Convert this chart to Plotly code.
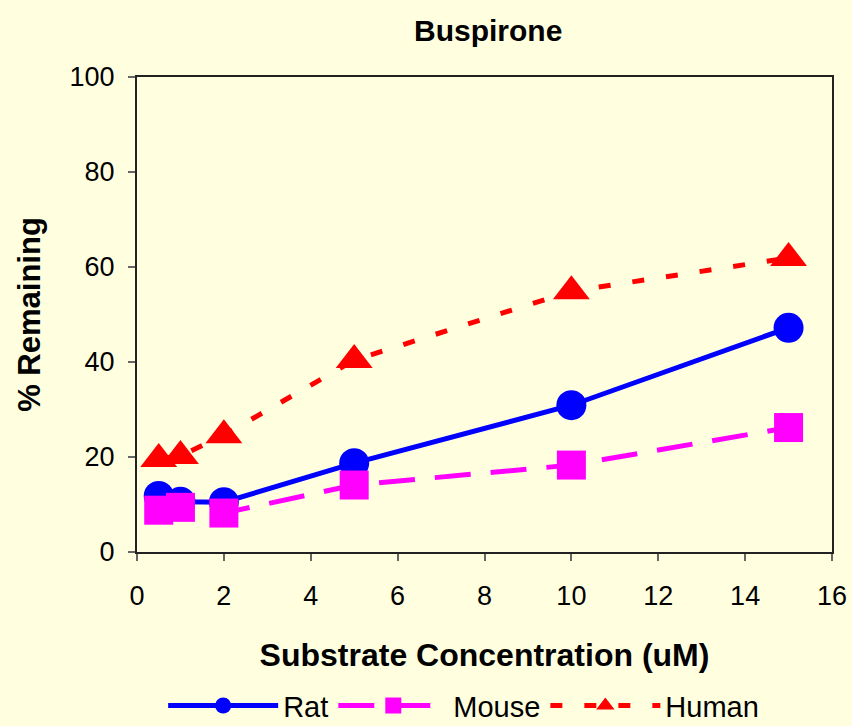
import plotly.graph_objects as go

# Substrate concentrations (uM)
conc = [0.5, 1, 2, 5, 10, 15]

# % remaining per species
rat = [11.8, 10.6, 10.5, 18.7, 30.9, 47.2]
mouse = [8.8, 9.4, 8.2, 14.1, 18.3, 26.2]
human = [19.6, 20.2, 24.6, 40.4, 54.9, 61.9]

x_ticks = [0, 2, 4, 6, 8, 10, 12, 14, 16]
y_ticks = [0, 20, 40, 60, 80, 100]

BG = "#FFFFE0"
FONT = "Liberation Sans, Arial, sans-serif"

fig = go.Figure()

fig.add_trace(go.Scatter(
    x=conc, y=rat, name="Rat", mode="lines+markers",
    line=dict(color="#0000FF", width=5),
    marker=dict(symbol="circle", size=30, color="#0000FF"),
))
fig.add_trace(go.Scatter(
    x=conc, y=mouse, name="Mouse", mode="lines+markers",
    line=dict(color="#FF00FF", width=5, dash="36px,20px"),
    marker=dict(symbol="square", size=29, color="#FF00FF"),
))
fig.add_trace(go.Scatter(
    x=conc, y=human, name="Human", mode="lines+markers",
    line=dict(color="#FF0000", width=5, dash="12px,22px"),
    marker=dict(symbol="triangle-up", size=32, color="#FF0000"),
))

fig.update_layout(
    width=852, height=726,
    paper_bgcolor=BG, plot_bgcolor=BG,
    margin=dict(l=137, r=20, t=77, b=174, autoexpand=False),
    font=dict(family=FONT, size=27, color="black"),
    title=dict(text="<b>Buspirone</b>", x=0.573, xanchor="center",
               y=0.958, yanchor="middle", font=dict(size=30)),
    showlegend=True,
    legend=dict(orientation="h", x=0.47, xanchor="center",
                yref="container", y=0.028, yanchor="middle",
                font=dict(size=29), itemwidth=110,
                bgcolor="rgba(0,0,0,0)", traceorder="normal"),
)

fig.update_xaxes(
    range=[0, 16], tickvals=x_ticks, ticks="outside", ticklen=7,
    tickcolor="#666", tickwidth=1.5,
    showline=True, linecolor="#222", linewidth=2, mirror=True,
    showgrid=False, zeroline=False, ticklabelstandoff=12,
    tickfont=dict(size=27), automargin=False,
    title=dict(text="<b>Substrate Concentration (uM)</b>", standoff=33,
               font=dict(size=32)),
)
fig.update_yaxes(
    range=[0, 100], tickvals=y_ticks, ticks="outside", ticklen=7,
    tickcolor="#666", tickwidth=1.5,
    showline=True, linecolor="#222", linewidth=2, mirror=True,
    showgrid=False, zeroline=False, ticklabelstandoff=8,
    tickfont=dict(size=27), automargin=False,
    title=dict(text="<b>% Remaining</b>", standoff=20, font=dict(size=31)),
)

fig.write_html("out.html")
